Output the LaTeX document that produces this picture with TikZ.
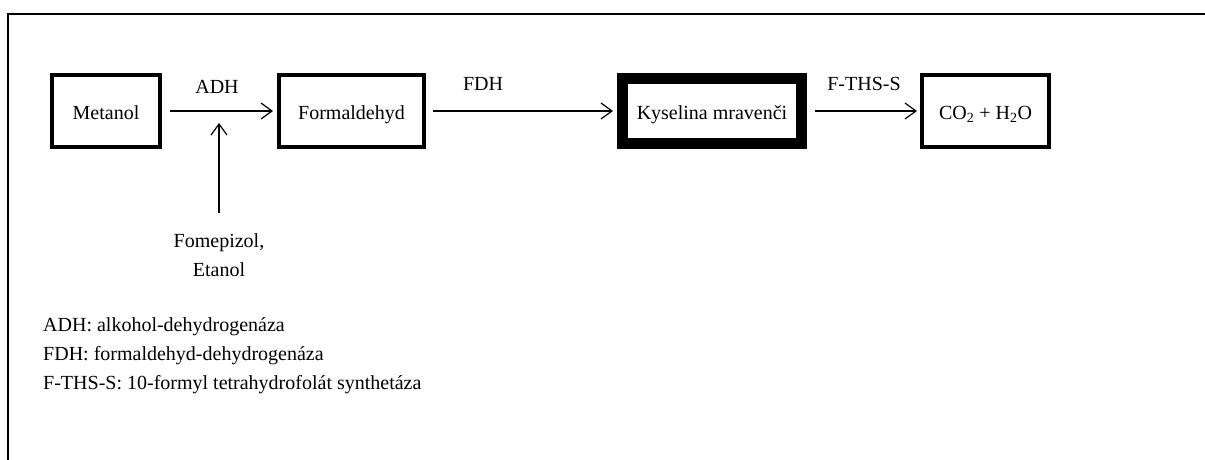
\documentclass[tikz,border=0pt]{standalone}
\usepackage{fontspec}
\setmainfont{Liberation Serif}
\usetikzlibrary{arrows.meta}
\begin{document}
\begin{tikzpicture}[x=1pt,y=-1pt,
  every node/.style={font=\fontsize{20}{29}\selectfont},
  box/.style={draw, line width=4pt, inner sep=0pt, text height=20pt, text depth=3pt},
  thickbox/.style={draw, line width=11pt, inner sep=0pt, text height=20pt, text depth=3pt},
  arr/.style={line width=1.2pt, -{Straight Barb[length=11pt,width=16pt,line width=1.2pt]}},
  lbl/.style={anchor=base, inner sep=0pt}]
\useasboundingbox (0,0) rectangle (1205,460);
\fill[white] (0,0) rectangle (1205,460);
% frame (cropped)
\draw[line width=2pt] (8,460) -- (8,14) -- (1205,14);
% boxes
\node[box, minimum width=108pt, minimum height=72pt] (met) at (106,111) {Metanol};
\node[box, minimum width=145pt, minimum height=72pt] (form) at (351.5,111) {Formaldehyd};
\node[thickbox, minimum width=179pt, minimum height=65pt] (kys) at (712,111) {Kyselina mravenči};
\node[box, minimum width=127pt, minimum height=72pt] (co) at (985.5,111) {CO\textsubscript{2} + H\textsubscript{2}O};
% connectors
\draw[arr, shorten <=8pt, shorten >=4pt] (met.east) -- (form.west);
\draw[arr, shorten <=7pt, shorten >=4pt] (form.east) -- (kys.west);
\draw[arr, shorten <=8pt, shorten >=3pt] (kys.east) -- (co.west);
% enzyme labels
\node[lbl] (adh) at (217,93) {ADH};
\node[lbl] (fdh) at (483,91) {FDH};
\node[lbl] (fths) at (864,91) {F-THS-S};
% inhibitors
\coordinate (inh) at (219,123);
\node[anchor=north, inner sep=0pt, align=center] (fom) at (219,233) {Fomepizol,\\Etanol};
\draw[arr] ([yshift=20pt]fom.north) -- (inh);
% legend
\node[anchor=north west, inner sep=0pt, align=left] (leg) at (43,317) {ADH: alkohol-dehydrogenáza\\FDH: formaldehyd-dehydrogenáza\\F-THS-S: 10-formyl tetrahydrofolát synthetáza};
\end{tikzpicture}
\end{document}
